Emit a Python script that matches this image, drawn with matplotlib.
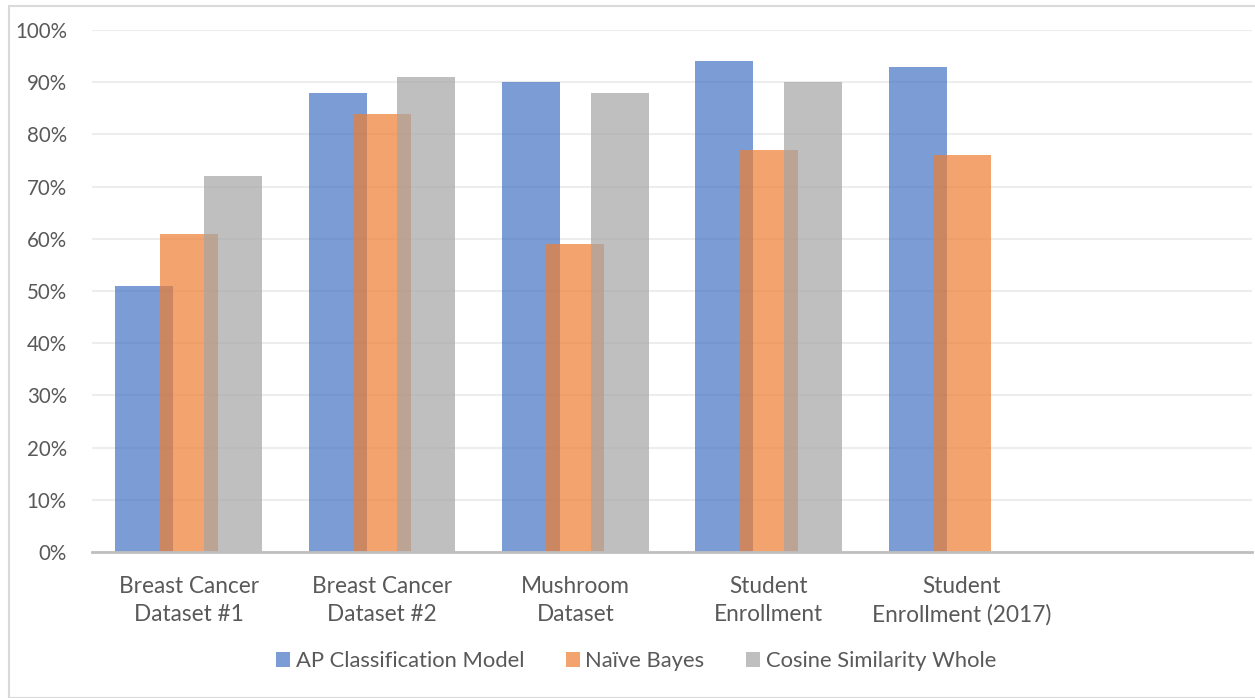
import numpy as np
import matplotlib.pyplot as plt
from matplotlib.patches import Rectangle
from matplotlib.ticker import PercentFormatter

categories = ["Breast Cancer\nDataset #1", "Breast Cancer\nDataset #2", "Mushroom\nDataset",
              "Student\nEnrollment", "Student\nEnrollment (2017)"]
series_names = ["AP Classification Model", "Naïve Bayes", "Cosine Similarity Whole"]
ap_model = [51, 88, 90, 94, 93]
naive_bayes = [61, 84, 59, 77, 76]
cosine_whole = [72, 91, 88, 90, 0]
yticks = np.arange(0, 101, 10)

colors = ["#4472C4", "#ED7D31", "#A5A5A5"]
text_col = "#595959"

plt.rcParams['font.family'] = ['Lato', 'DejaVu Sans']

fig = plt.figure(figsize=(12.55, 6.98), dpi=100)
ax = fig.add_axes([92 / 1255, 1 - 552 / 698, 1160 / 1255, 522 / 698])

x = np.arange(len(categories))
width = 0.30
step = 0.23
for i, (vals, name) in enumerate(zip([ap_model, naive_bayes, cosine_whole], series_names)):
    ax.bar(x + (i - 1) * step, vals, width, color=colors[i], alpha=0.7,
           label=name, zorder=3, linewidth=0)

ax.set_xlim(-0.5, 5.5)
ax.set_ylim(0, 100)
ax.set_yticks(yticks)
ax.yaxis.set_major_formatter(PercentFormatter(decimals=0))
ax.set_xticks(x)
ax.set_xticklabels(categories, linespacing=1.42)
ax.tick_params(axis='both', length=0, colors=text_col)
ax.tick_params(axis='x', pad=17, labelsize=16.3)
ax.tick_params(axis='y', pad=18, labelsize=14.8)
ax.grid(axis='y', color='#EDEDED', linewidth=1.5, zorder=0)

for side in ['top', 'right', 'left']:
    ax.spines[side].set_visible(False)
ax.spines['bottom'].set_color('#BFBFBF')
ax.spines['bottom'].set_linewidth(2)
ax.spines['bottom'].set_zorder(4)

leg = fig.legend(loc='center', bbox_to_anchor=(636 / 1255, 1 - 661 / 698), ncol=3,
                 frameon=False, fontsize=15.8, handlelength=0.64, handleheight=0.64,
                 handletextpad=0.27, columnspacing=1.87)
for t in leg.get_texts():
    t.set_color(text_col)

# chart area border
fig.patches.append(Rectangle((8.5 / 1255, 0.5 / 698), 1.0, 1 - 6 / 698,
                             transform=fig.transFigure, fill=False,
                             edgecolor='#D9D9D9', linewidth=1.5))

fig.savefig("out.png", dpi=100)
